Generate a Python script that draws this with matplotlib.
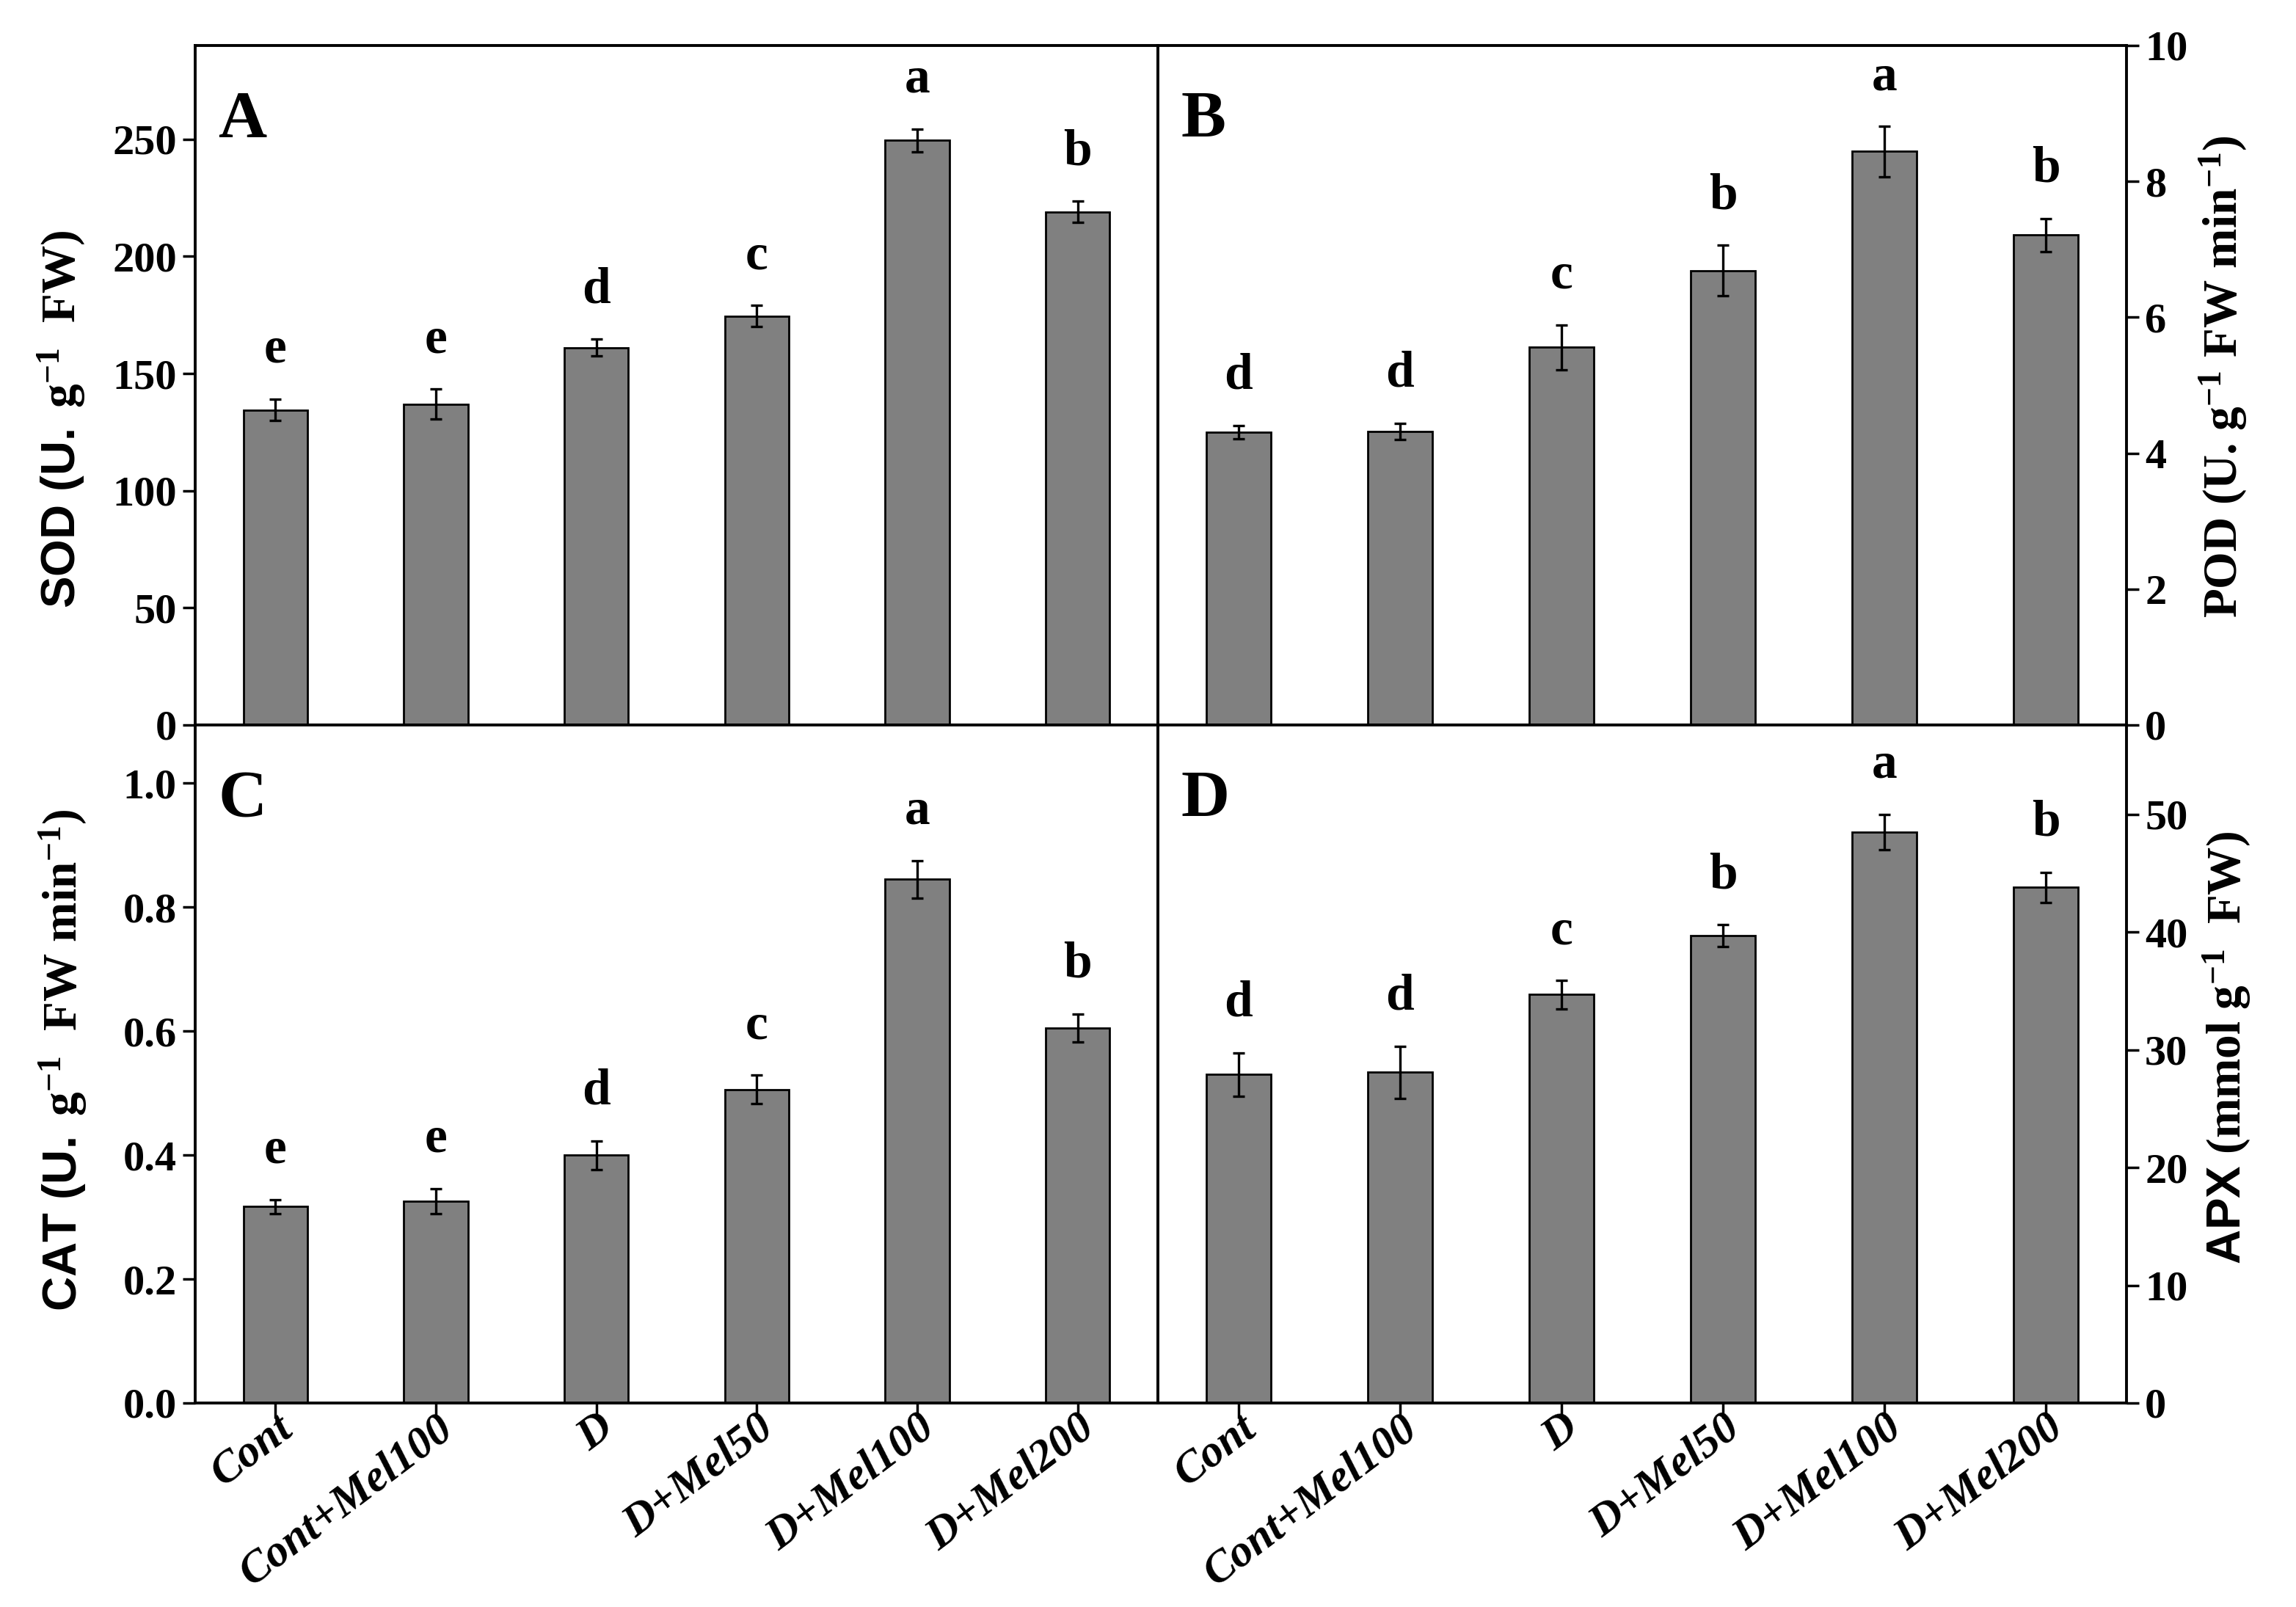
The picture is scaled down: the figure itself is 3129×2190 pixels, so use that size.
import numpy as np
import matplotlib
matplotlib.use('Agg')
import matplotlib.pyplot as plt

plt.rcParams['font.family'] = ['Liberation Serif', 'DejaVu Serif']
plt.rcParams['font.weight'] = 'bold'
plt.rcParams['mathtext.fontset'] = 'custom'
plt.rcParams['mathtext.rm'] = 'Liberation Serif:bold'
plt.rcParams['mathtext.it'] = 'Liberation Serif:bold'
plt.rcParams['mathtext.bf'] = 'Liberation Serif:bold'
plt.rcParams['mathtext.sf'] = 'Liberation Sans:bold'

groups = ['Cont', 'Cont+Mel100', 'D', 'D+Mel50', 'D+Mel100', 'D+Mel200']

sod = [134.5, 137, 161, 174.5, 249.5, 219]
sod_err = [4.6, 6.4, 3.6, 4.6, 4.8, 4.5]
sod_letters = ['e', 'e', 'd', 'c', 'a', 'b']

pod = [4.31, 4.32, 5.56, 6.69, 8.44, 7.21]
pod_err = [0.10, 0.12, 0.33, 0.37, 0.37, 0.245]
pod_letters = ['d', 'd', 'c', 'b', 'a', 'b']

cat = [0.317, 0.326, 0.400, 0.506, 0.845, 0.605]
cat_err = [0.011, 0.020, 0.023, 0.023, 0.030, 0.023]
cat_letters = ['e', 'e', 'd', 'c', 'a', 'b']

apx = [27.9, 28.1, 34.7, 39.7, 48.5, 43.8]
apx_err = [1.84, 2.2, 1.2, 0.94, 1.5, 1.3]
apx_letters = ['d', 'd', 'c', 'b', 'a', 'b']

W, H = 3129, 2190
fig = plt.figure(figsize=(W / 100, H / 100), dpi=100)

L, M, R = 266 / W, 1578 / W, 2898 / W
T, MID, B = 1 - 62 / H, 1 - 988 / H, 1 - 1912 / H

x = np.arange(len(groups))


def panel(rect, vals, errs, letters, ylim, yticks, fmt, tag, right, bottom):
    ax = fig.add_axes(rect)
    ax.bar(x, vals, width=0.4, color='#808080', edgecolor='black',
           linewidth=2.0, zorder=2)
    ax.errorbar(x, vals, yerr=errs, fmt='none', ecolor='black',
                elinewidth=2.4, capsize=6, capthick=2.4, zorder=3)
    for xi, v, e, lt in zip(x, vals, errs, letters):
        ax.annotate(lt, (xi, v + e), xytext=(0, 36), textcoords='offset points',
                    ha='center', va='baseline', fontsize=50, fontweight='bold')
    ax.set_xlim(-0.5, 5.5)
    ax.set_ylim(*ylim)
    ax.set_yticks(yticks)
    ax.set_yticklabels([fmt.format(t) for t in yticks])
    for s in ax.spines.values():
        s.set_linewidth(2.8)
    if right:
        ax.yaxis.tick_right()
    ax.tick_params(axis='y', direction='out', length=12, width=2.5,
                   labelsize=42, pad=6)
    if bottom:
        ax.set_xticks(x)
        ax.set_xticklabels(groups, rotation=37, ha='right',
                           rotation_mode='anchor', fontstyle='italic',
                           fontsize=44)
        ax.tick_params(axis='x', direction='out', length=15, width=2.5, pad=-11)
    else:
        ax.set_xticks([])
    ax.text(0.024, 0.865, tag, transform=ax.transAxes, fontsize=66,
            fontweight='bold', va='baseline', ha='left')
    return ax


panel([L, MID, M - L, T - MID], sod, sod_err, sod_letters, (0, 290),
      [0, 50, 100, 150, 200, 250], '{:g}', 'A', False, False)
panel([M, MID, R - M, T - MID], pod, pod_err, pod_letters, (0, 10),
      [0, 2, 4, 6, 8, 10], '{:g}', 'B', True, False)
panel([L, B, M - L, MID - B], cat, cat_err, cat_letters, (0, 1.094),
      [0.0, 0.2, 0.4, 0.6, 0.8, 1.0], '{:.1f}', 'C', False, True)
panel([M, B, R - M, MID - B], apx, apx_err, apx_letters, (0, 57.6),
      [0, 10, 20, 30, 40, 50], '{:g}', 'D', True, True)

# axis titles
fig.text(84 / W, 1 - 571 / H, r'$\mathsf{SOD\ (U.}$ g$^{-1}$  FW)',
         rotation=90, ha='center', va='center', fontsize=47)
fig.text(86 / W, 1 - 1445 / H, r'$\mathsf{CAT\ (U.}$ g$^{-1}$  FW min$^{-1}$)',
         rotation=90, ha='center', va='center', fontsize=47)
fig.text(3030 / W, 1 - 513 / H, r'POD (U. g$^{-1}$ FW min$^{-1}$)',
         rotation=90, ha='center', va='center', fontsize=47)
fig.text(3035 / W, 1 - 1428 / H, r'$\mathsf{APX}$ (mmol g$^{-1}$  FW)',
         rotation=90, ha='center', va='center', fontsize=47)

fig.savefig('out.png', dpi=100, facecolor='white')
